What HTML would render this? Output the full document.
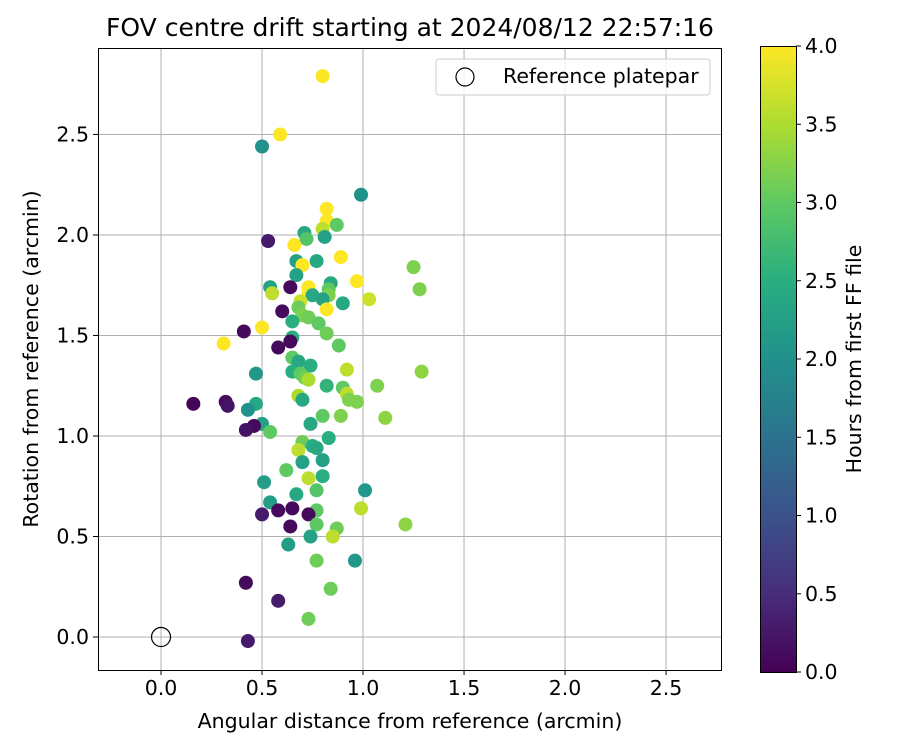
<!DOCTYPE html>
<html><head><meta charset="utf-8"><style>
body{margin:0;background:#fff;}
svg text{font-family:"DejaVu Sans","Liberation Sans",sans-serif;fill:#000;}
</style></head><body>
<svg id="chart" width="900" height="750" xmlns="http://www.w3.org/2000/svg">
<rect width="900" height="750" fill="#fff"/>
<g id="grid"></g>
<g id="points"></g>
<rect x="98.5" y="48.5" width="623" height="622" fill="none" stroke="#000" stroke-width="1"/>
<g id="ticks"></g>
<text x="410" y="36" font-size="25" text-anchor="middle">FOV centre drift starting at 2024/08/12 22:57:16</text>
<text x="410" y="728" font-size="20.5" text-anchor="middle">Angular distance from reference (arcmin)</text>
<text transform="translate(38,359) rotate(-90)" font-size="20.5" text-anchor="middle">Rotation from reference (arcmin)</text>
<g>
<rect x="436" y="59" width="274" height="36" rx="3" fill="#fff" fill-opacity="0.8" stroke="#ccc"/>
<circle cx="465" cy="77" r="9" fill="none" stroke="#000" stroke-width="1.2"/>
<text x="503" y="83" font-size="20.5">Reference platepar</text>
</g>
<defs><linearGradient id="vir" x1="0" y1="1" x2="0" y2="0">
<stop offset="0" stop-color="#440154"/><stop offset="0.125" stop-color="#472d7b"/><stop offset="0.25" stop-color="#3b528b"/><stop offset="0.375" stop-color="#2c728e"/><stop offset="0.5" stop-color="#21918c"/><stop offset="0.625" stop-color="#28ae80"/><stop offset="0.75" stop-color="#5ec962"/><stop offset="0.875" stop-color="#addc30"/><stop offset="1" stop-color="#fde725"/>
</linearGradient></defs>
<rect x="760.5" y="46.5" width="36" height="626" fill="url(#vir)" stroke="#000" stroke-width="1"/>
<g id="cbticks"></g>
<text transform="translate(861,359) rotate(-90)" font-size="20.5" text-anchor="middle">Hours from first FF file</text>
</svg>
<script>
const xTicks=[0.0,0.5,1.0,1.5,2.0,2.5];
const yTicks=[0.0,0.5,1.0,1.5,2.0,2.5];
const cTicks=[0.0,0.5,1.0,1.5,2.0,2.5,3.0,3.5,4.0];
const xs=[0.80,0.59,0.50,0.99,0.82,0.82,0.87,0.80,0.71,0.72,0.81,0.53,0.66,0.89,0.67,0.77,0.70,1.25,0.97,0.67,0.84,0.73,0.64,0.54,1.28,0.73,0.55,0.83,0.83,0.75,0.80,1.03,0.90,0.69,0.68,0.82,0.60,0.70,0.73,0.78,0.65,0.50,0.41,0.82,0.65,0.64,0.31,0.88,0.58,0.65,0.68,0.74,0.92,1.29,0.65,0.69,0.47,0.71,0.73,0.82,1.07,0.90,0.92,0.68,0.93,0.97,0.70,0.32,0.47,0.16,0.33,0.43,0.80,0.89,1.11,0.50,0.74,0.46,0.42,0.54,0.83,0.70,0.75,0.77,0.68,0.80,0.70,0.62,0.73,0.80,0.51,1.01,0.77,0.67,0.54,0.99,0.65,0.77,0.58,0.50,0.73,0.77,0.64,0.87,1.21,0.85,0.74,0.63,0.77,0.96,0.42,0.84,0.58,0.73,0.43];
const ys=[2.79,2.50,2.44,2.20,2.13,2.07,2.05,2.03,2.01,1.98,1.99,1.97,1.95,1.89,1.87,1.87,1.85,1.84,1.77,1.80,1.76,1.74,1.74,1.74,1.73,1.71,1.71,1.73,1.70,1.70,1.68,1.68,1.66,1.67,1.64,1.63,1.62,1.60,1.59,1.56,1.57,1.54,1.52,1.51,1.49,1.47,1.46,1.45,1.44,1.39,1.37,1.35,1.33,1.32,1.32,1.31,1.31,1.29,1.28,1.25,1.25,1.24,1.21,1.20,1.18,1.17,1.18,1.17,1.16,1.16,1.15,1.13,1.10,1.10,1.09,1.06,1.06,1.05,1.03,1.02,0.99,0.97,0.95,0.94,0.93,0.88,0.87,0.83,0.79,0.80,0.77,0.73,0.73,0.71,0.67,0.64,0.64,0.63,0.63,0.61,0.61,0.56,0.55,0.54,0.56,0.50,0.50,0.46,0.38,0.38,0.27,0.24,0.18,0.09,-0.02];
const hrs=[4.0,4.0,2.0,2.0,4.0,4.0,3.0,3.6,2.4,2.9,2.3,0.3,4.0,4.0,2.3,2.4,4.0,3.2,4.0,2.3,2.4,4.0,0.1,2.3,3.2,4.0,3.6,3.0,3.2,2.4,2.3,3.7,2.4,3.7,3.1,4.0,0.1,3.2,3.1,3.0,2.5,4.0,0.1,3.1,2.5,0.1,4.0,3.0,0.1,3.0,2.4,2.5,3.6,3.3,2.5,3.0,2.1,3.1,3.5,2.6,3.2,3.0,3.6,3.5,3.2,3.2,2.4,0.1,2.4,0.05,0.2,2.0,3.0,3.2,3.3,2.3,2.4,0.1,0.2,3.0,2.5,3.1,2.5,2.4,3.6,2.3,2.3,3.0,3.6,2.5,2.2,2.1,2.9,2.4,2.2,3.6,0.1,3.0,0.1,0.3,0.1,3.0,0.1,3.1,3.3,3.6,2.3,2.2,3.1,2.1,0.1,3.1,0.3,3.1,0.3];

const NS="http://www.w3.org/2000/svg";
const X0=98,X1=721,XMIN=-0.312,XMAX=2.772;
const Y0=670,Y1=48,YMIN=-0.164,YMAX=2.93;
const sx=v=>X0+(v-XMIN)/(XMAX-XMIN)*(X1-X0);
const sy=v=>Y0-(v-YMIN)/(YMAX-YMIN)*(Y0-Y1);
const cy=v=>672-v/4*626;
const stops=[[68,1,84],[71,45,123],[59,82,139],[44,114,142],[33,145,140],[40,174,128],[94,201,98],[173,220,48],[253,231,37]];
function vir(h){let t=Math.max(0,Math.min(1,h/4))*8;let i=Math.min(7,Math.floor(t));let f=t-i;const a=stops[i],b=stops[i+1];return `rgb(${a.map((c,k)=>Math.round(c+(b[k]-c)*f)).join(',')})`;}
function mk(tag,attrs,parent){const e=document.createElementNS(NS,tag);for(const k in attrs)e.setAttribute(k,attrs[k]);parent.appendChild(e);return e;}
const grid=document.getElementById('grid'),ticks=document.getElementById('ticks'),pts=document.getElementById('points'),cb=document.getElementById('cbticks');
xTicks.forEach(v=>{const x=sx(v);
 const g=mk('line',{x1:x,x2:x,y1:Y1,y2:Y0,stroke:'#b0b0b0','stroke-width':1},grid);
 
 
 const t=mk('line',{x1:x,x2:x,y1:Y0,y2:Y0+5,stroke:'#000'},ticks);
 
 
 const l=mk('text',{x:x,y:Y0+25,'font-size':20.5,'text-anchor':'middle'},ticks);l.textContent=v.toFixed(1);
 
 });
yTicks.forEach(v=>{const y=sy(v);
 const g=mk('line',{x1:X0,x2:X1,y1:y,y2:y,stroke:'#b0b0b0','stroke-width':1},grid);
 
 
 const t=mk('line',{x1:X0-5,x2:X0,y1:y,y2:y,stroke:'#000'},ticks);
 
 
 const l=mk('text',{x:X0-9,y:y+7,'font-size':20.5,'text-anchor':'end'},ticks);l.textContent=v.toFixed(1);
 
 });
cTicks.forEach(v=>{const y=cy(v);
 const t=mk('line',{x1:796,x2:801,y1:y,y2:y,stroke:'#000'},cb);
 
 
 const l=mk('text',{x:805,y:y+7,'font-size':20.5},cb);l.textContent=v.toFixed(1);
 
 });
xs.forEach((v,i)=>{const c=mk('circle',{cx:sx(v),cy:sy(ys[i]),r:7,fill:vir(hrs[i])},pts);
 
 });
const ref=mk('circle',{cx:sx(0),cy:sy(0),r:9.5,fill:'none',stroke:'#000','stroke-width':1.2},pts);


</script>
</body></html>
